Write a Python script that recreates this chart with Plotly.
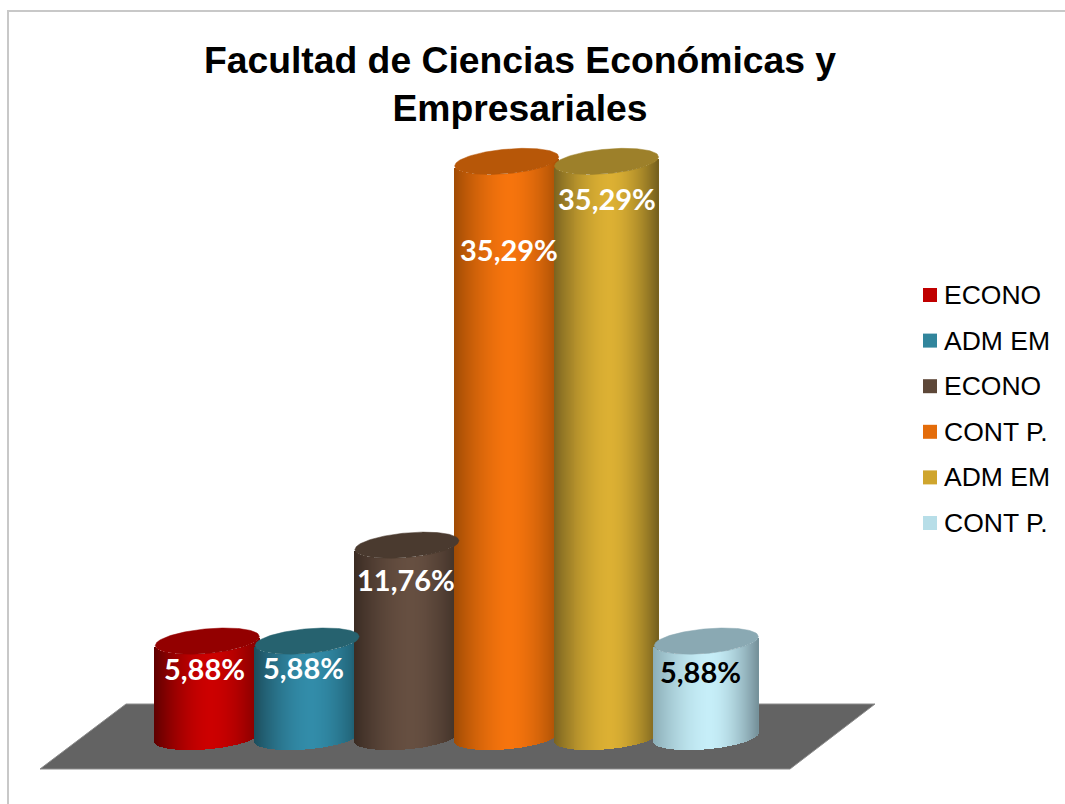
"""Facultad de Ciencias Económicas y Empresariales: cylinder columns in Plotly."""

import plotly.graph_objects as go

TITLE = "Facultad de Ciencias Económicas y<br>Empresariales"
CATEGORIES = ["ECONO", "ADM EM", "ECONO", "CONT P.", "ADM EM", "CONT P."]
SHARES = [5.88, 5.88, 11.76, 35.29, 35.29, 5.88]
LABELS = ["5,88%", "5,88%", "11,76%", "35,29%", "35,29%", "5,88%"]

LEGEND_COLORS = ["#c00000", "#31859c", "#5d4738", "#e46c0a", "#cfa52d", "#b7dee8"]
CENTER_COLORS = ["#cc0000", "#328ca9", "#664f41", "#f6740d", "#dcb033", "#c6eef8"]
LEFT_COLORS = ["#5e0000", "#1c4d5c", "#3a2b23", "#a04b04", "#7a6320", "#8badb6"]
RIGHT_COLORS = ["#800000", "#1d5a6c", "#3f3027", "#a84f05", "#75601e", "#759099"]
TOP_COLORS = ["#930000", "#26626f", "#4a3a2f", "#b75708", "#9d802a", "#8aa9b3"]
LABEL_COLORS = ["white", "white", "white", "white", "white", "black"]
LABEL_DROP = [27, 26.5, 34, 88.5, 37.5, 30]
LABEL_SHIFT = [-3, -4, -1, 2, 0, -6]

WIDTH = 1065
HEIGHT = 804
FIRST_CENTER_PX = 207.3
STEP_PX = 99.8
BASELINE_PX = 737
PX_PER_UNIT = 16.31
CYL_RADIUS = 0.522
CAP_B = 12.3 / PX_PER_UNIT
CAP_TILT = 4.5 / PX_PER_UNIT
N_STRIPS = 105
HIGHLIGHT = 0.08


def px_x(x):
    return x / WIDTH


def px_y(y):
    return 1 - y / HEIGHT


def hex_rgb(color):
    return [int(color[i : i + 2], 16) for i in (1, 3, 5)]


def shade(left, center, right, u):
    edge = left if u < HIGHLIGHT else right
    span = 1 + HIGHLIGHT if u < HIGHLIGHT else 1 - HIGHLIGHT
    t = (abs(u - HIGHLIGHT) / span) ** 1.7
    a, b = hex_rgb(center), hex_rgb(edge)
    return "rgb({},{},{})".format(*[round(p + (q - p) * t) for p, q in zip(a, b)])


def front_edge(u):
    # lower rim of the tilted ellipse, in data units below its centre
    return CAP_B * (1 - u * u) ** 0.5 - CAP_TILT * u


def cap_outline(index, value):
    xs, ys = [], []
    for k in range(73):
        u = -1 + k / 36
        xs.append(index + CYL_RADIUS * u)
        ys.append(value - front_edge(u))
    for k in range(73):
        u = 1 - k / 36
        xs.append(index + CYL_RADIUS * u)
        ys.append(value + CAP_B * (1 - u * u) ** 0.5 + CAP_TILT * u)
    return xs, ys


fig = go.Figure()

for i, value in enumerate(SHARES):
    strip_w = 2 * CYL_RADIUS / N_STRIPS
    us = [-1 + (k + 0.5) * 2 / N_STRIPS for k in range(N_STRIPS)]
    bases = [-front_edge(u) for u in us]
    fig.add_trace(
        go.Bar(
            x=[i + CYL_RADIUS * u for u in us],
            y=[value] * N_STRIPS,
            base=bases,
            width=strip_w * 1.5,
            marker={
                "color": [
                    shade(LEFT_COLORS[i], CENTER_COLORS[i], RIGHT_COLORS[i], u)
                    for u in us
                ],
                "line": {"width": 0},
            },
            name=CATEGORIES[i],
            showlegend=False,
            hoverinfo="skip",
        )
    )
    cap_x, cap_y = cap_outline(i, value)
    fig.add_trace(
        go.Scatter(
            x=cap_x,
            y=cap_y,
            mode="lines",
            fill="toself",
            fillcolor=TOP_COLORS[i],
            line={"color": TOP_COLORS[i], "width": 0.5},
            showlegend=False,
            hoverinfo="skip",
        )
    )

shapes = [
    # chart frame
    {
        "type": "path",
        "xref": "paper",
        "yref": "paper",
        "path": f"M {px_x(8)} {px_y(804)} L {px_x(8)} {px_y(11)} L {px_x(1065)} {px_y(11)}",
        "line": {"color": "#c8c8c8", "width": 2},
        "layer": "below",
    },
    # floor
    {
        "type": "path",
        "xref": "paper",
        "yref": "paper",
        "path": f"M {px_x(126)} {px_y(704)} L {px_x(875)} {px_y(704)} "
        f"L {px_x(790)} {px_y(769)} L {px_x(40)} {px_y(769)} Z",
        "fillcolor": "#636363",
        "line": {"color": "#8c8c8c", "width": 1},
        "layer": "below",
    },
]

annotations = []
for i, label in enumerate(LABELS):
    annotations.append(
        {
            "x": i,
            "y": SHARES[i],
            "xref": "x",
            "yref": "y",
            "text": f"<b>{label}</b>",
            "showarrow": False,
            "xshift": LABEL_SHIFT[i],
            "yshift": -LABEL_DROP[i],
            "font": {"family": "Lato", "size": 29, "color": LABEL_COLORS[i]},
        }
    )

# legend column, to get the tight swatch/text spacing of the original
for i, name in enumerate(CATEGORIES):
    row_y = 295 + 45.6 * i
    shapes.append(
        {
            "type": "rect",
            "xref": "paper",
            "yref": "paper",
            "x0": px_x(923),
            "x1": px_x(937),
            "y0": px_y(row_y - 7),
            "y1": px_y(row_y + 7),
            "fillcolor": LEGEND_COLORS[i],
            "line": {"width": 0},
        }
    )
    annotations.append(
        {
            "x": px_x(943),
            "y": px_y(row_y),
            "xref": "paper",
            "yref": "paper",
            "xanchor": "left",
            "yanchor": "middle",
            "text": name,
            "showarrow": False,
            "font": {"family": "Liberation Sans", "size": 26.5, "color": "black"},
            "borderpad": 0,
        }
    )

fig.update_layout(
    title={
        "text": f"<b>{TITLE}</b>",
        "x": px_x(520),
        "xanchor": "center",
        "y": px_y(73),
        "yanchor": "top",
        "font": {"family": "Liberation Sans", "size": 37.3, "color": "black"},
    },
    barmode="overlay",
    bargap=0,
    showlegend=False,
    xaxis={
        "visible": False,
        "range": [
            (0 - FIRST_CENTER_PX) / STEP_PX,
            (WIDTH - FIRST_CENTER_PX) / STEP_PX,
        ],
        "domain": [0, 1],
    },
    yaxis={
        "visible": False,
        "range": [
            (BASELINE_PX - HEIGHT) / PX_PER_UNIT,
            BASELINE_PX / PX_PER_UNIT,
        ],
        "domain": [0, 1],
    },
    shapes=shapes,
    annotations=annotations,
    margin={"l": 0, "r": 0, "t": 0, "b": 0},
    paper_bgcolor="white",
    plot_bgcolor="rgba(0,0,0,0)",
    width=WIDTH,
    height=HEIGHT,
)

fig.write_html(
    "out.html",
    config={"displayModeBar": False},
    post_script="document.body.style.margin='0';document.body.style.overflow='hidden';",
)
